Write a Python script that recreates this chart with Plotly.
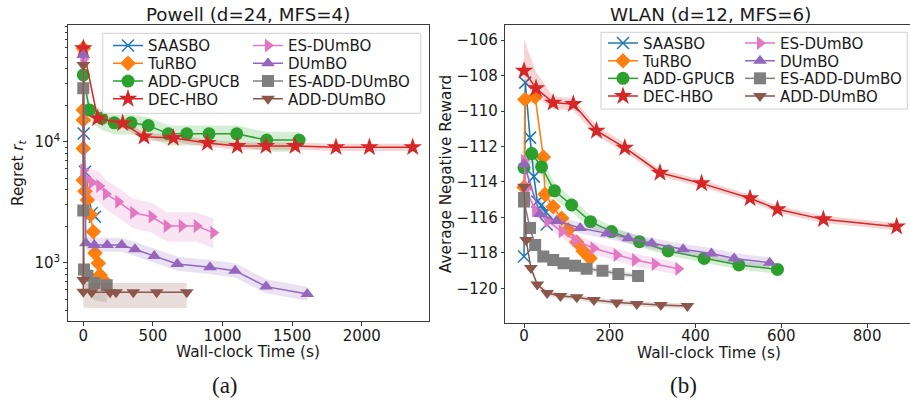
import plotly.graph_objects as go

W, H = 910, 401

# ---------------- data: Powell (left, log y) ----------------
methods = ["SAASBO", "TuRBO", "ADD-GPUCB", "DEC-HBO", "ES-DUmBO", "DUmBO", "ES-ADD-DUmBO", "ADD-DUmBO"]

saas_p_x = [0, 3, 12, 60, 84]
saas_p_y = [55000, 11700, 5650, 2560, 2400]
turbo_p_x = [0, 0, 0, 0, 0, 12, 29, 50, 72, 84, 108, 120, 144]
turbo_p_y = [59000, 18300, 15100, 8800, 4800, 3900, 3300, 2500, 1800, 1200, 990, 790, 720]
gpucb_p_x = [0, 43, 132, 223, 343, 467, 611, 743, 903, 1102, 1317, 1550]
gpucb_p_y = [35600, 18300, 15600, 14300, 14300, 13600, 11600, 11600, 11600, 11600, 10300, 10300]
dec_p_x = [0, 103, 283, 436, 647, 891, 1106, 1312, 1521, 1815, 2055, 2366]
dec_p_y = [59000, 15600, 14200, 11000, 10700, 9750, 9200, 9200, 9200, 9000, 9000, 9000]
esd_p_x = [0, 0, 12, 60, 115, 163, 251, 359, 491, 599, 707, 815, 934]
esd_p_y = [48000, 5800, 5000, 4600, 4300, 3700, 3190, 2590, 2400, 2010, 2010, 2010, 1770]
dumbo_p_x = [0, 19, 79, 172, 276, 371, 510, 675, 910, 1090, 1313, 1609]
dumbo_p_y = [52000, 1445, 1400, 1400, 1400, 1290, 1135, 975, 916, 859, 634, 551]
esadd_p_x = [0, 0, 5, 30, 80, 168]
esadd_p_y = [27600, 2700, 880, 780, 680, 650]
add_p_x = [0, 0, 0, 60, 192, 235, 359, 527, 743]
add_p_y = [43000, 720, 575, 570, 570, 570, 570, 570, 570]

# band factors (upper multiplier, lower multiplier)
band_p = {
    "SAASBO": (1.1, 0.9), "TuRBO": (1.1, 0.9), "ADD-GPUCB": (1.17, 0.8), "DEC-HBO": (1.07, 0.93),
    "ES-DUmBO": (1.3, 0.74), "DUmBO": (1.15, 0.88), "ES-ADD-DUmBO": (1.05, 0.72), "ADD-DUmBO": (1.19, 0.74),
}

# ---------------- data: WLAN (right) ----------------
saas_w_x = [0, 3, 14, 23, 31, 41, 51, 53]
saas_w_y = [-118.2, -108.4, -111.5, -113.7, -115.1, -115.3, -115.7, -116.4]
turbo_w_x = [0, 2, 26, 45, 49, 68, 88, 103, 123, 138, 154]
turbo_w_y = [-114.3, -109.35, -109.2, -112.6, -114.7, -115.4, -116.05, -116.7, -117.4, -117.9, -118.3]
gpucb_w_x = [0, 18, 41, 71, 111, 155, 204, 269, 336, 420, 501, 591]
gpucb_w_y = [-113.2, -112.4, -113.15, -114.5, -115.3, -116.24, -116.8, -117.37, -117.89, -118.31, -118.68, -118.93]
dec_w_x = [0, 28, 68, 115, 169, 235, 317, 414, 527, 591, 698, 869]
dec_w_y = [-107.73, -108.72, -109.53, -109.61, -111.11, -112.07, -113.48, -114.08, -114.92, -115.54, -116.11, -116.52]
esd_w_x = [0, 5, 26, 55, 88, 119, 162, 216, 259, 305, 360]
esd_w_y = [-112.8, -114.4, -115.6, -116.2, -116.8, -117.27, -117.74, -118.12, -118.4, -118.63, -118.9]
dumbo_w_x = [0, 37, 76, 131, 193, 243, 298, 371, 437, 490, 573]
dumbo_w_y = [-113.0, -115.8, -116.2, -116.6, -116.9, -117.18, -117.46, -117.8, -118.03, -118.31, -118.55]
esadd_w_x = [0, 0, 14, 26, 45, 68, 92, 119, 146, 183, 220, 266]
esadd_w_y = [-114.9, -115.1, -116.6, -117.56, -118.2, -118.4, -118.59, -118.72, -118.9, -119.0, -119.19, -119.3]
add_w_x = [0, 5, 16, 31, 54, 85, 123, 163, 216, 263, 319, 381]
add_w_y = [-114.27, -117.27, -118.85, -119.78, -120.26, -120.43, -120.5, -120.66, -120.8, -120.88, -120.94, -121.0]

# band half-widths (upper, lower)
saas_w_sp = [1.2, 0.5, 0.4, 0.4, 0.3, 0.3, 0.3, 0.3]
gpucb_w_sp = [0.3, 0.5, 0.5, 0.45, 0.4, 0.35, 0.3, 0.3, 0.25, 0.25, 0.25, 0.25]
dec_w_up = [1.8, 0.9, 0.35, 0.35, 0.3, 0.25, 0.2, 0.2, 0.2, 0.2, 0.2, 0.2]
dec_w_dn = [0.6, 0.5, 0.35, 0.35, 0.3, 0.25, 0.2, 0.2, 0.2, 0.2, 0.2, 0.2]
band_w = {
    "SAASBO": (saas_w_sp, saas_w_sp), "TuRBO": (0.3, 0.3), "ADD-GPUCB": (gpucb_w_sp, gpucb_w_sp),
    "DEC-HBO": (dec_w_up, dec_w_dn), "ES-DUmBO": (0.35, 0.35), "DUmBO": (0.3, 0.3),
    "ES-ADD-DUmBO": (0.15, 0.15), "ADD-DUmBO": (0.15, 0.15),
}

powell = {
    "SAASBO": (saas_p_x, saas_p_y), "TuRBO": (turbo_p_x, turbo_p_y), "ADD-GPUCB": (gpucb_p_x, gpucb_p_y),
    "DEC-HBO": (dec_p_x, dec_p_y), "ES-DUmBO": (esd_p_x, esd_p_y), "DUmBO": (dumbo_p_x, dumbo_p_y),
    "ES-ADD-DUmBO": (esadd_p_x, esadd_p_y), "ADD-DUmBO": (add_p_x, add_p_y),
}
wlan = {
    "SAASBO": (saas_w_x, saas_w_y), "TuRBO": (turbo_w_x, turbo_w_y), "ADD-GPUCB": (gpucb_w_x, gpucb_w_y),
    "DEC-HBO": (dec_w_x, dec_w_y), "ES-DUmBO": (esd_w_x, esd_w_y), "DUmBO": (dumbo_w_x, dumbo_w_y),
    "ES-ADD-DUmBO": (esadd_w_x, esadd_w_y), "ADD-DUmBO": (add_w_x, add_w_y),
}

colors = {"SAASBO": "#1f77b4", "TuRBO": "#ff7f0e", "ADD-GPUCB": "#2ca02c", "DEC-HBO": "#d62728",
          "ES-DUmBO": "#e377c2", "DUmBO": "#9467bd", "ES-ADD-DUmBO": "#7f7f7f", "ADD-DUmBO": "#8c564b"}
symbols = {"SAASBO": "x-thin-open", "TuRBO": "diamond", "ADD-GPUCB": "circle", "DEC-HBO": "star",
           "ES-DUmBO": "triangle-right", "DUmBO": "triangle-up", "ES-ADD-DUmBO": "square",
           "ADD-DUmBO": "triangle-down"}
sizes = {"SAASBO": 12, "TuRBO": 12, "ADD-GPUCB": 13, "DEC-HBO": 14, "ES-DUmBO": 12, "DUmBO": 12,
         "ES-ADD-DUmBO": 12, "ADD-DUmBO": 12}
# legend layout: (column, row) of each method in the 2-column legend
leg_pos = {"SAASBO": (0, 0), "TuRBO": (0, 1), "ADD-GPUCB": (0, 2), "DEC-HBO": (0, 3),
           "ES-DUmBO": (1, 0), "DUmBO": (1, 1), "ES-ADD-DUmBO": (1, 2), "ADD-DUmBO": (1, 3)}


def rgba(hexc, a):
    h = hexc.lstrip("#")
    return "rgba(%d,%d,%d,%s)" % (int(h[0:2], 16), int(h[2:4], 16), int(h[4:6], 16), a)


def as_list(v, n):
    return v if isinstance(v, list) else [v] * n


fig = go.Figure()


def add_series(name, xs, ys, up, dn, log, xa, ya, legname):
    n = len(ys)
    up, dn = as_list(up, n), as_list(dn, n)
    if log:
        hi = [y * u for y, u in zip(ys, up)]
        lo = [y * d for y, d in zip(ys, dn)]
    else:
        hi = [y + u for y, u in zip(ys, up)]
        lo = [y - d for y, d in zip(ys, dn)]
    c = colors[name]
    fig.add_trace(go.Scatter(x=xs, y=hi, mode="lines", line=dict(width=0), hoverinfo="skip",
                             showlegend=False, xaxis=xa, yaxis=ya))
    fig.add_trace(go.Scatter(x=xs, y=lo, mode="lines", line=dict(width=0), fill="tonexty",
                             fillcolor=rgba(c, 0.2), hoverinfo="skip", showlegend=False,
                             xaxis=xa, yaxis=ya))
    mk = dict(symbol=symbols[name], size=sizes[name], color=c)
    if name == "SAASBO":
        mk["line"] = dict(width=1.5, color=c)
    fig.add_trace(go.Scatter(x=xs, y=ys, mode="lines+markers", name=name,
                             line=dict(color=c, width=1.5), marker=mk,
                             xaxis=xa, yaxis=ya, legend=legname))


def px_x(p):
    return p / W


def px_y(p):
    return 1 - p / H


FONT = "DejaVu Sans"
TXT = "#1a1a1a"
AX = "#3a3a3a"

# legend geometry in pixels: text start of each column, row centres
legends = {}
panels = [
    ("p", powell, band_p, True, "x", "y", [148, 288], [45.7, 63.5, 81.3, 99.0], 0),
    ("w", wlan, band_w, False, "x2", "y2", [643, 780], [43.3, 61.0, 78.6, 96.2], 8),
]
for tag, data, band, log, xa, ya, colx, rowy, off in panels:
    for i, m in enumerate(methods):
        k = off + i + 1
        lname = "legend" if k == 1 else "legend%d" % k
        c, r = leg_pos[m]
        legends[lname] = (colx[c], rowy[r])
        xs, ys = data[m]
        add_series(m, xs, ys, band[m][0], band[m][1], log, xa, ya, lname)

axis_common = dict(showline=True, linecolor=AX, linewidth=1, ticks="outside", ticklen=3.5,
                   tickwidth=1, tickcolor=AX, showgrid=False, zeroline=False,
                   tickfont=dict(family=FONT, size=15, color=TXT))

minor_vals = [v * 10 ** e for e in (2, 3, 4) for v in range(2, 10)]

fig.update_layout(
    width=W, height=H, margin=dict(l=0, r=0, t=0, b=0),
    paper_bgcolor="white", plot_bgcolor="rgba(0,0,0,0)", template="none",
    xaxis=dict(domain=[px_x(67.7), px_x(429)], range=[-112, 2483], mirror=True,
               tickvals=[0, 500, 1000, 1500, 2000], anchor="y", ticklabelstandoff=-3, **axis_common),
    yaxis=dict(domain=[px_y(321), px_y(25)], type="log", range=[2.518, 4.964], mirror=True,
               tickvals=[1000, 10000], ticktext=["10<sup>3</sup>", "10<sup>4</sup>"], anchor="x",
               minor=dict(tickvals=minor_vals, ticks="outside", ticklen=2, tickcolor=AX, tickwidth=0.8),
               **axis_common),
    xaxis2=dict(domain=[px_x(505.3), 1.0], range=[-43.6, 900], mirror=True,
                tickvals=[0, 200, 400, 600, 800], anchor="y2", ticklabelstandoff=-5, **axis_common),
    yaxis2=dict(domain=[px_y(323.3), px_y(25)], range=[-121.97, -105.15], mirror=False,
                tickvals=[-106, -108, -110, -112, -114, -116, -118, -120], anchor="x2", **axis_common),
)

leg_common = dict(orientation="v", bgcolor="rgba(0,0,0,0)", borderwidth=0, xanchor="left",
                  yanchor="middle", font=dict(family=FONT, size=15, color=TXT), itemwidth=30,
                  tracegroupgap=0, traceorder="normal")
fig.update_layout({ln: dict(x=px_x(tx - 40), y=px_y(ty), **leg_common) for ln, (tx, ty) in legends.items()})

# legend frames (matplotlib-like boxes)
for (x0, y0, x1, y1) in [(102.7, 33.3, 420.7, 113.3), (601, 32.3, 907.3, 109)]:
    fig.add_shape(type="rect", xref="paper", yref="paper", x0=px_x(x0), x1=px_x(x1),
                  y0=px_y(y1), y1=px_y(y0), line=dict(color="#d0d0d0", width=1),
                  fillcolor="rgba(255,255,255,0.8)", layer="above")

ann = [
    dict(x=248, y=14, text="Powell (d=24, MFS=4)", size=18.3, angle=0, fam=FONT),
    dict(x=710, y=14, text="WLAN (d=12, MFS=6)", size=18.3, angle=0, fam=FONT),
    dict(x=248, y=352, text="Wall-clock Time (s)", size=15.3, angle=0, fam=FONT),
    dict(x=709, y=353, text="Wall-clock Time (s)", size=15.3, angle=0, fam=FONT),
    dict(x=19, y=173, text="Regret <i>r</i><sub><i>t</i></sub>", size=15.3, angle=-90, fam=FONT),
    dict(x=446, y=174, text="Average Negative Reward", size=15.3, angle=-90, fam=FONT),
    dict(x=225, y=385, text="(a)", size=23, angle=0, fam="Liberation Serif"),
    dict(x=683, y=385, text="(b)", size=23, angle=0, fam="Liberation Serif"),
]
for a in ann:
    fig.add_annotation(x=px_x(a["x"]), y=px_y(a["y"]), xref="paper", yref="paper",
                       text=a["text"], showarrow=False, textangle=a["angle"],
                       xanchor="center", yanchor="middle",
                       font=dict(family=a["fam"], size=a["size"], color=TXT))

fig.write_html("out.html", config={"displayModeBar": False},
               post_script="document.body.style.margin='0';document.body.style.overflow='hidden';")
